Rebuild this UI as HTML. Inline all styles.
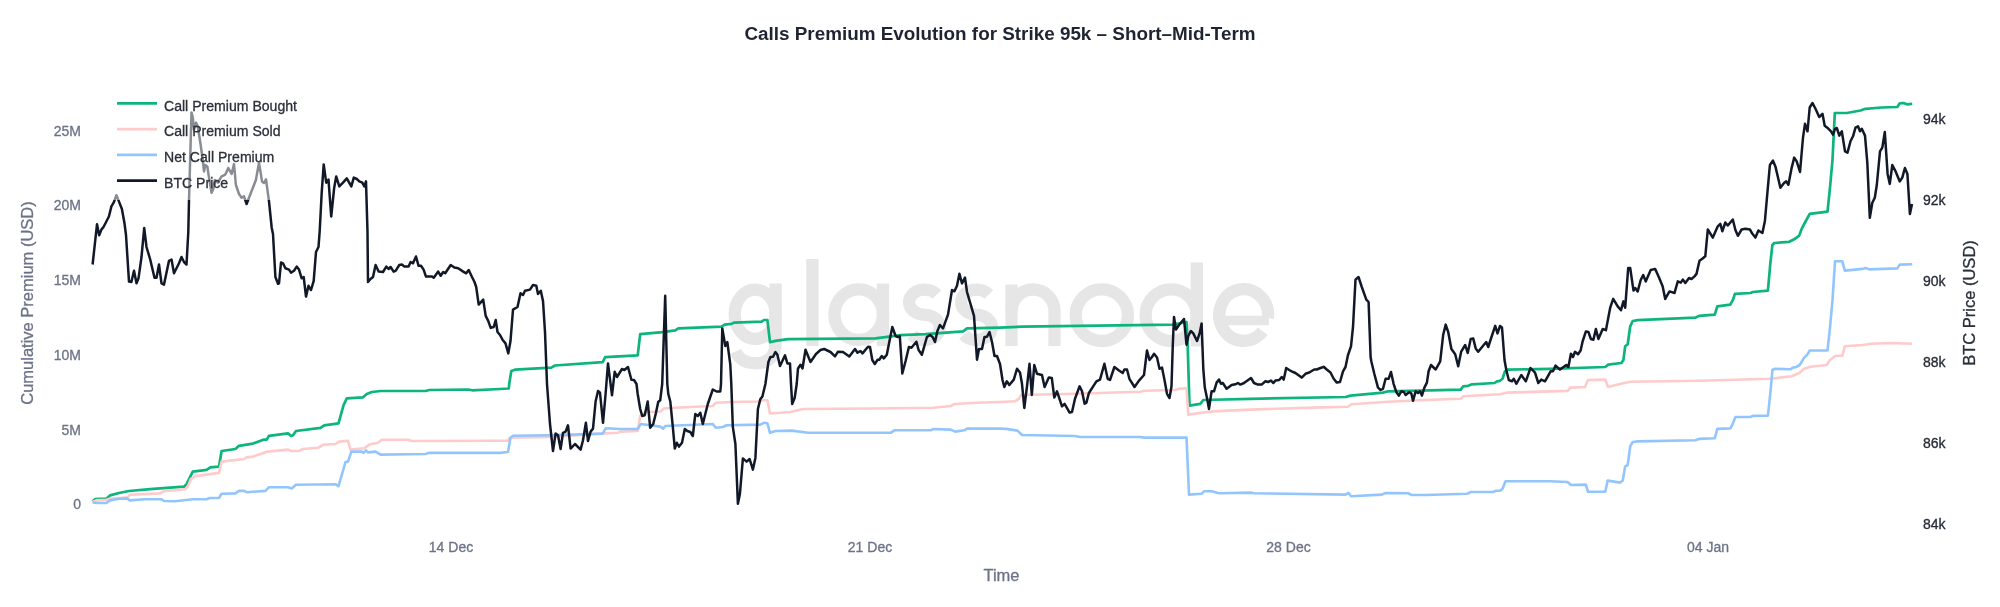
<!DOCTYPE html>
<html><head><meta charset="utf-8">
<style>
html,body{margin:0;padding:0;background:#fff;}
body{width:2000px;height:607px;overflow:hidden;position:relative;font-family:"Liberation Sans",sans-serif;}
svg{position:absolute;left:0;top:0;will-change:transform;}
text{font-family:"Liberation Sans",sans-serif;stroke-width:0.3px;paint-order:stroke;}
</style></head><body>
<svg width="2000" height="607" viewBox="0 0 2000 607">
<rect x="0" y="0" width="2000" height="607" fill="#ffffff"/>
<!-- watermark -->
<g fill="none" stroke="#e6e6e6" stroke-width="12.3" stroke-linecap="butt"><ellipse cx="755.2" cy="314.3" rx="20.5" ry="24.6"/><path d="M775.6,283.6 V343 C775.6,357 768,363.3 756,363.3 C746,363.3 739,359 735.5,351.5"/><path d="M812.4,259 V346"/><ellipse cx="858.7" cy="314.6" rx="24.3" ry="25.2"/><path d="M883.0,283.5 V346"/><path d="M936.8,294.4 A15.4,12.60 0 0 0 924.5,289.6 A15.4,12.60 0 0 0 909.1,302.2 A15.4,12.60 0 0 0 924.5,314.8 A15.4,12.60 0 0 1 939.9,327.4 A15.4,12.60 0 0 1 924.5,340.0 A15.4,12.60 0 0 1 911.9,334.7"/><path d="M988.8,294.4 A15.4,12.60 0 0 0 976.5,289.6 A15.4,12.60 0 0 0 961.1,302.2 A15.4,12.60 0 0 0 976.5,314.8 A15.4,12.60 0 0 1 991.9,327.4 A15.4,12.60 0 0 1 976.5,340.0 A15.4,12.60 0 0 1 963.9,334.7"/><path d="M1011.5,284.5 V346"/><path d="M1011.5,311 A21.5,21.5 0 0 1 1054.5,311 V346"/><ellipse cx="1101.8" cy="315.2" rx="26.1" ry="25.8"/><ellipse cx="1171.2" cy="315.2" rx="25.6" ry="25.8"/><path d="M1196.8,262.5 V346.5"/><path d="M1267.9,318.3 A24.4,25.8 0 1 0 1262.7,331.2"/><path d="M1219.1,320.5 H1268.9" stroke-width="9.5"/></g>
<!-- series -->
<polyline fill="none" stroke="#0db57d" stroke-width="2.7" stroke-linejoin="round" points="92.6,501.2 95,499.2 106.4,498.7 110,495.4 119,493 129,491 150,489.2 184,486.7 186.5,484.2 192.8,471.6 206.6,469.9 210.3,467.4 219,466.6 221.6,451 235.4,449 239,445.8 252.9,443.6 264,439.6 266.7,439.6 269,435.8 288,433.3 291,436 293,435.3 296,431 320.5,427.8 324.2,425.3 338.5,423.3 343.5,405.3 346.8,398.3 363,397.3 366.8,394 371.8,392 380.6,391 425.6,391 429.4,390 468.2,389.5 472,390.3 500,389 508.8,388.5 509.2,384 511.3,371 515,369.7 551.3,367.7 555,365.5 602.7,362.2 605.2,357.2 637.7,355.4 640.2,334.2 662.7,332.2 675.3,330.4 678.3,328.4 721.6,326.6 724.6,324.6 731.6,323.9 734,322.6 761.6,321.6 764,320 767.4,320 770,342.2 775.4,340.9 788,339.2 875.6,338.4 900.6,335.2 925.6,334.2 963.2,331.4 967,328.4 1000,327.6 1022.5,326.6 1172.8,324.6 1186.5,322 1187.5,340 1189.5,405.6 1200.3,403.8 1203.3,400 1250.4,398.8 1345.5,397 1350.5,395.6 1383,392.6 1388,391.3 1460.7,389.6 1463.2,386.3 1468.2,385.8 1472,384.3 1494.5,383 1497,381.3 1500,380.8 1502.5,378.8 1505,371.3 1507.5,369.6 1550,368.8 1605.2,367 1608.2,364.6 1621.4,363 1623.4,360 1625.2,346.3 1627.7,344.3 1630.2,326.3 1632.7,321 1637.7,320.2 1695.3,317.7 1699,315.9 1714.8,314.7 1717.3,306.4 1730.3,304.7 1732.8,300.2 1734.9,293.9 1750.4,293 1752.9,292 1767.9,290.6 1770.4,262.6 1772.4,245 1774.2,243 1789.2,241.8 1794.2,239.3 1799.2,235.6 1801.7,228.8 1805,222.5 1809.7,213.8 1827.5,211.6 1830,187.7 1832.5,160 1834.8,113 1846.8,113 1860.5,110.5 1865.5,108.8 1881.8,107.5 1897.3,107 1899.8,103.3 1903.6,103 1906.9,104.3 1912.2,103.8"/>
<polyline fill="none" stroke="#fecaca" stroke-width="2.6" stroke-linejoin="round" points="92.6,501.7 96.4,500.4 106.4,499.7 110,498.7 127.7,497.2 130.2,494.7 160.2,493.4 164,491.2 185.3,489.2 187.8,486.7 190.8,479.1 195.3,476.1 219,472.9 221.6,461.6 244,459 246.6,457.4 252.9,456.6 267.9,451.6 288,449.6 291.7,451 299.2,450.9 303,449 318,447.8 323,444.8 335.5,444 339.3,441.6 348,440.8 350.5,449.6 364.3,448.3 369.3,444.6 378,442.8 381.8,439.8 408,439.8 411.9,441 500,440.8 507.5,440.8 510,437.8 550,437 600,433.6 617.7,432.8 620.2,431.6 637.7,431 640.2,416 645.2,412 660.2,411.5 664,408.5 675.3,407.8 700.3,406.5 712.8,406 715.8,402.8 731.6,402 757.9,401.5 761.6,400.3 767.4,400.3 770,413.5 790.4,412 803,409 875.6,408.5 933.2,407.8 950.7,406 954.4,404 975.7,402.8 1000,402 1015,401.3 1018.8,398.8 1021.3,395 1075,393.8 1140.2,391.8 1144,390.8 1175.3,390 1179,388.8 1186.5,388.3 1188.3,414.6 1200.3,413 1212.8,411.4 1250.4,409.6 1313,407.6 1348,406.8 1351.3,404.3 1388,401.8 1425.6,400 1460.7,398.8 1463.2,396.3 1500,394.2 1507.5,392.6 1567.6,390.9 1570.6,387.6 1585.1,387 1588,380 1605.2,379.6 1608.2,387 1617.7,384.6 1630.2,381.8 1700.3,380.8 1770.4,378.8 1791.7,376.3 1799.2,373 1804.2,368.8 1810.5,366.8 1826.7,365 1830,360 1835.5,355.8 1842.3,355.8 1844.8,346.3 1863,345 1870.5,343.8 1890.6,343 1912.2,343.8"/>
<polyline fill="none" stroke="#93c5fd" stroke-width="2.6" stroke-linejoin="round" points="92.6,502.4 96.4,503 106.4,503 110,500.4 119,498.7 127,498.4 129.7,500.4 145.2,499.2 161.5,499.2 164,501 175.3,501.2 192.8,499.2 206.6,499.2 209.6,498 219,498 221.6,493.7 235.4,493.4 239,490.9 244,490.9 246.6,492.2 265.4,490.9 269,487.2 288,487.2 291.7,488.4 296,484.7 335.5,484.2 338.5,486.2 345.5,462 348,461.6 351.3,451.6 361.8,451.6 363.5,452.9 366,450.4 368,452.4 375.6,451.6 380.6,454.6 425.6,454 428.6,452.9 500,452.9 508,452 510.5,437.8 513,435.8 550,435.3 602.7,433.6 605.7,428.3 620.2,429 637.7,429 640.7,424 660.2,426.6 663.2,428.6 665.2,426 712.8,424 715.8,427.8 722.8,427 726.6,425.3 760.4,424.6 764,422.8 767.4,423.3 770,432.8 775.4,431 791.7,430.6 808,432.8 890.6,432.8 894.3,430.3 930.6,430.3 933.2,429 950.7,429.6 955.2,431.6 964.4,430.3 967,428.6 1000,428.6 1006.3,428.9 1017.5,430.6 1022,435 1075,436 1080,437 1140.2,437 1144,437.6 1186.5,437.6 1189,494.6 1201.6,493.8 1204,491.3 1211.6,491.3 1219,493.3 1250.4,492.6 1254,493.3 1345.5,494.6 1348.5,493 1351,496.3 1381.8,494.6 1385.6,493 1408,493.3 1411.9,495 1425.6,495 1467,493.8 1470.7,492 1493.2,492 1495.7,490.8 1500,490.8 1502.5,488.8 1505.5,481.3 1550,481.3 1567.6,482 1570.9,485 1585.9,484.6 1588,491.8 1605.2,491.8 1607.7,480.6 1620.2,482.6 1622.7,480.6 1625.2,466.3 1627.7,465 1630.2,446.3 1632.7,442 1637.7,441.4 1695.3,440.2 1699,438.9 1714.8,438.2 1717.3,428.9 1730.3,428.4 1732.8,423.9 1735.4,417 1750.4,417 1752.9,415.9 1767.9,415.6 1770.4,392.6 1772.4,370 1775,368.8 1790.4,369.3 1793,367.6 1796.2,367 1799.7,365 1804.2,357.6 1807.5,354.3 1809.7,350.5 1827.5,350.5 1830,327.5 1832.5,300.2 1835,261.3 1842.3,261.3 1844.8,270.6 1863,268.9 1865.5,268 1869.3,269.4 1897.3,268.4 1899.8,264.6 1912.2,264.3"/>
<polyline fill="none" stroke="#111827" stroke-width="2.5" stroke-linejoin="round" points="92.6,264.5 97.0,224.3 99.2,235.2 101.4,229.6 103.5,227 105.6,223 108.9,216.5 111.4,206.4 113.9,202.2 116.4,195.2 118.9,201.4 121.9,209 124.4,222.7 126,235 129,281.6 131.4,282 134,270.8 136.5,283.3 138.5,278.3 141.5,257 144.2,228 146.5,247 150.2,259.5 154.5,277.8 156.5,277.8 159,264.5 161.5,283.3 164,284.6 169,260.8 171.5,259.5 174,273.3 179,263.3 181.5,257 184,262 186.5,264.5 188.3,232 189,200 191.5,112.5 192.8,117.6 194,130 196,122.6 197.8,126.3 200.3,142.6 202.8,160 204,171.4 205.3,165 207.3,166.4 209,177.6 211.6,192.7 213.3,189 214.8,180 217.8,182.6 221.6,176.4 225.3,174.6 228.3,168 231.6,174 234,164 235.9,185 239,194 241.6,197.7 244,196.4 246.6,204 249,197.7 252.9,187.7 255.9,180 259,162.6 262,181.4 264,183 266,179.4 269,201.4 271.7,227.7 273,234 275.4,277 278,283.8 279,283.3 281,262.5 283,263.3 285.4,268.3 289,269.6 291,272.6 294,270.8 296.7,266.6 299,269.6 301.7,278.3 303.7,277 306,296.6 308.5,285.8 311,290 313.7,280.8 316,252 318.5,247 319.7,231 321.7,192.7 323.7,164.4 326.2,182.7 328.5,179.6 331.2,216.5 334.2,187.7 336.2,176.4 339.3,186.4 343,182.7 346.8,178.4 351.3,186.4 353.8,177.6 356.8,179 359.3,181.4 362.3,182.7 364.3,186.4 366,181.4 367.5,232 368,282 370.5,279 373,277 375.6,265 378.6,271.6 383,272 386.3,266.6 388.6,269 390.6,267 393.6,271.6 395.6,270.8 399.3,265 401.9,264.5 404.4,266.6 408.6,266.6 410.6,262 413,263.3 416,256.5 418.6,265.8 421,265.8 423.6,269.6 426,276.6 432,276.6 433.7,277.8 438.2,271.6 440.7,275.8 443.2,272 445.2,273.3 450.7,265 454.4,267.6 458.2,268.3 463.2,271.6 466.2,273.3 468.7,270 472,277 474.5,282 476.2,287 478.7,304.6 483.2,299.6 485.7,315.9 488.2,320.9 490.7,327.9 493.7,327 495.7,320 497.5,332 500,335 502.5,339.7 505.5,343.4 508.3,353.4 510.5,341 513,309.6 517.5,307 520.5,293.3 523,295 525,290.8 530,289.6 533,285 536.3,285.8 538,294 540.8,290.8 543,300.9 545,332 547,384 550,424 553,451 555.6,433.6 558,435.3 560.6,449 563,432.8 565.6,431.6 568,425.3 570.6,448.6 575,444 580.6,449.6 583,440.3 585.9,422.8 588,441 590.6,431.6 593,428.6 595.6,401.5 598,391 600,392.8 603,422.8 605.5,395 608,363.4 612,395.3 614.7,371.7 617,377 622,369 624.4,370 628,367 631.4,379.7 634,380 636.5,384 637.7,394 640.2,409 642.2,416 644.7,415.3 647.7,401.5 650.2,427.8 653.2,424 655.7,414 658.2,402 660.2,400.3 662.2,384 665.2,295.8 667.3,384 668.3,394 670.3,401.5 672.8,426.6 674.8,448.6 676.8,442.8 679,446.6 682,442.8 684.8,429 687.3,431 690.3,432 692.8,436 695.3,414 697.8,416 700.3,412.8 702.8,424 707.8,404 712.8,389.5 716.6,391.5 720.3,391.5 721,384 722.3,328.4 725.3,346 727.3,342 730.3,364.7 731.3,384 732.8,426.6 735.4,444 737.9,503.7 739.9,494 742.9,458.4 746.6,461.6 749.6,459 752.9,469.6 755.4,457.9 757.9,409 760.4,399 762.4,396.5 765.4,384 768.4,362 770.4,357 773,356.7 775.4,352 777.4,354.7 780,366 785,355.4 787.4,363.4 790,363.4 791,384 792.2,404 794.7,397.8 796.7,384 798,368.5 800.5,364.7 802.5,368.5 805.5,349.7 810.5,362 816,354 820.5,350 824.2,349 830.5,352 835,356.4 838,351.7 843,352 849.3,356.4 855,349 857.5,352.7 860.5,351 862.5,353.4 868,346.7 870,347 872.3,360 874.8,364 877.6,359.7 879.3,359.7 881.8,356 883.8,358.4 886.8,354.7 889.3,342 892.3,327 895.6,336 898,337 899.8,336 902.3,373.5 905.6,361 908.9,347 911.4,347.7 916.4,341.7 918.6,350 921.9,354.7 926.9,337 930,335 932.6,337 935,342 937.4,331 939.9,325 943,328.4 948,314.6 952,290 954.4,291.3 957,285.8 959.4,273.8 962,283.3 965,277.6 967,292 970.7,304.6 974,315.9 977,359.7 979,349 982,349 984.5,337 987,336.7 989.5,332 992,342 994.5,356 997,356 1000,364 1002.5,380 1004.3,387 1006.8,381.3 1009.3,385 1013.8,379.6 1017,368.8 1020,372.5 1022,383.8 1024.3,408 1027,386.3 1029.5,363.8 1031.8,395 1034.3,365 1037,373.8 1042,375 1044.6,387 1048.8,377.6 1051.8,378 1054.3,397.6 1057,391.3 1062,406.3 1064.6,403.8 1069.6,412.6 1072,412 1075,398.8 1079.6,386.3 1082,391.3 1084.6,403.8 1086.4,402.6 1088.9,393 1096.4,381.3 1100,379.6 1104.4,363.8 1107.7,378.8 1110,380 1114.4,367 1119,370.5 1122.7,373 1124.4,369.5 1127,369.5 1129.4,378.8 1134.5,387 1139,380.6 1144,375 1147,350.5 1149.5,360 1152,357 1154,353.8 1157,357.5 1159.5,368.8 1162,367.5 1164.5,380 1167,393.8 1169.5,398 1171.5,386.3 1172.8,344.7 1174,317 1176,329.6 1179,325 1181.5,322 1184,319 1186.5,344.7 1188.3,336 1190.8,331 1193.3,333.4 1197,341 1199.6,333.4 1201.6,323.4 1203.3,368.8 1204.8,387.6 1207,398 1209,408.9 1211.6,391.3 1214,391.3 1216.6,382.6 1219,379.6 1221,383.8 1222.8,383 1226.6,388.8 1231.6,385 1235.4,384.3 1237.9,383 1240.4,384.6 1244,383 1251,378 1254,383 1257.9,384.6 1261.6,384.6 1265.4,381.3 1268,382 1271,380.6 1273.4,383 1275.4,380.6 1279.2,380 1281.7,377 1283.7,379.6 1286.2,368 1289.2,370 1291.7,371.3 1295.4,373 1301.7,377.6 1305.5,373.8 1309.2,372.5 1314.2,369.5 1316.7,369.5 1320.5,368 1323.7,366.8 1326.7,369.5 1330.5,372.5 1333.7,378.8 1336.8,382.6 1340,382 1343,371.3 1345.5,367 1348,355 1351,346.3 1353,327 1355.5,279.6 1358.5,277 1361.8,287 1366.3,299.6 1368.6,302 1370.6,357 1371.3,361.3 1374.3,373.8 1378,387.6 1380.6,390 1383,388.8 1385.6,378.8 1388.6,378.8 1391,372 1393.6,383.8 1396.3,392 1398.8,395.6 1401.3,391.3 1403.9,392 1405.6,395 1409.4,392 1411.4,393.8 1413,400.8 1415.6,391.3 1418,393 1420,391.3 1421.9,395.6 1424.4,387.6 1426.9,382.6 1428.6,371.3 1431,365 1435.7,369.5 1440.2,361.3 1443.2,334.7 1445.7,324.6 1448.2,332 1451.4,349 1455.2,354.3 1458.2,366.2 1461.2,351.6 1465.2,345 1467.7,353 1470.7,339 1473.2,338.4 1475.7,348.4 1478.2,351.7 1484.5,344 1486.2,342 1488.2,347 1491.5,337 1495.2,325.9 1497.5,333.4 1500,326 1502,327.5 1504.5,360 1506.3,370 1508.8,380 1512,381.3 1513.8,378.8 1516.3,383.8 1521.3,375 1525.8,381.3 1530.5,368 1535,372.6 1538.3,383 1541.3,379.6 1545,381.3 1550.6,371.3 1553,371.3 1555.6,365.6 1560,369.6 1566.3,365 1568.4,367 1570.9,353.8 1573,357 1575,351.8 1578,354.3 1580.6,350.5 1582.6,341.5 1585.9,331.4 1588.4,332 1590.9,339 1593.4,339.7 1595.9,329 1598.4,339 1602.7,329 1605.9,330.2 1610.2,307.7 1613.2,298.9 1617.7,306.4 1621,310.2 1623.4,301.4 1625.2,307.7 1628.2,268 1630.2,268 1633.5,290.6 1635.2,288 1637.7,291.4 1640.7,280 1643.2,275 1645.7,281.4 1650.7,270 1655.2,268.9 1659,277.6 1662.7,286.4 1665.2,298.9 1669.5,291.4 1674.5,293 1677.8,281.4 1680.8,282.6 1682.8,279.6 1685.3,283 1689,278 1691.5,279 1694.5,276.4 1696.5,273.9 1699.5,260.8 1702.3,258.8 1705.3,256.3 1707.8,229.5 1712.8,237.6 1717.8,226.3 1720.3,223.8 1722.3,231.3 1725.3,222.5 1727.8,225.5 1732.8,219.5 1735.4,230 1737.9,235.8 1741.6,229.5 1745.4,228.8 1749.9,229.5 1752.4,233.8 1755.4,237.6 1758.4,230.5 1762.4,233 1764.9,221 1767.4,192.7 1769.9,165 1772.9,160.6 1775.4,166.4 1780.4,187.7 1784.2,182.7 1786.2,181.4 1788.4,184.7 1791.7,167.6 1794.2,157.6 1796.7,161.4 1800,172 1803,137.6 1805,123.8 1807.5,131.3 1809.7,107.5 1812.5,103 1815.5,108.8 1819.2,117 1822.5,113.8 1824.7,125.8 1828,128.3 1831,131.3 1833,134.6 1835,128.8 1836.8,128 1839.3,135.6 1841.8,131.3 1845,151.4 1847.5,152.6 1850.5,141.3 1853,136.3 1855.5,127.6 1858,126.3 1860,131.3 1861.8,128.8 1865,135.6 1867.3,162.6 1869.8,217.7 1872.3,202.7 1874.8,197.7 1876.8,185 1880,151.4 1882.3,147.6 1884.8,132 1887.6,173.9 1889.8,183.9 1892.3,165 1895.6,171.4 1899.8,181.4 1902.3,177.6 1904.9,168 1907.4,173.9 1909.9,214 1912.0,204"/>
<!-- legend -->
<rect x="112" y="92" width="192" height="108" fill="#ffffff" fill-opacity="0.5"/>
<g font-size="14.08" fill="#2a2f3a" stroke="#2a2f3a">
<line x1="117" y1="103.4" x2="157" y2="103.4" stroke="#0db57d" stroke-width="2.7"/>
<text x="164" y="110.6">Call Premium Bought</text>
<line x1="117" y1="129.1" x2="157" y2="129.1" stroke="#fecaca" stroke-width="2.6"/>
<text x="164" y="136.3">Call Premium Sold</text>
<line x1="117" y1="154.9" x2="157" y2="154.9" stroke="#93c5fd" stroke-width="2.6"/>
<text x="164" y="162.0">Net Call Premium</text>
<line x1="117" y1="180.6" x2="157" y2="180.6" stroke="#111827" stroke-width="2.6"/>
<text x="164" y="187.7">BTC Price</text>
</g>
<!-- title -->
<text x="1000" y="40" font-size="18.86" font-weight="bold" fill="#1f2433" text-anchor="middle">Calls Premium Evolution for Strike 95k – Short–Mid-Term</text>
<!-- left ticks -->
<g font-size="14" fill="#6b7287" stroke="#6b7287" text-anchor="end">
<text x="81" y="136">25M</text>
<text x="81" y="210.2">20M</text>
<text x="81" y="284.7">15M</text>
<text x="81" y="360">10M</text>
<text x="81" y="435">5M</text>
<text x="81" y="509">0</text>
</g>
<!-- right ticks -->
<g font-size="14" fill="#252a36" stroke="#252a36" text-anchor="start">
<text x="1923" y="123.8">94k</text>
<text x="1923" y="204.8">92k</text>
<text x="1923" y="285.8">90k</text>
<text x="1923" y="366.8">88k</text>
<text x="1923" y="447.8">86k</text>
<text x="1923" y="528.8">84k</text>
</g>
<!-- x ticks -->
<g font-size="14" fill="#6b7287" stroke="#6b7287" text-anchor="middle">
<text x="451" y="552">14 Dec</text>
<text x="870" y="552">21 Dec</text>
<text x="1288.5" y="552">28 Dec</text>
<text x="1708" y="552">04 Jan</text>
</g>
<!-- axis titles -->
<text x="1001.5" y="581.4" font-size="16.5" fill="#6b7287" stroke="#6b7287" text-anchor="middle">Time</text>
<text transform="translate(33,303) rotate(-90)" font-size="16.5" fill="#6b7287" stroke="#6b7287" text-anchor="middle">Cumulative Premium (USD)</text>
<text transform="translate(1975,303) rotate(-90)" font-size="16.5" fill="#2a2f3a" stroke="#2a2f3a" text-anchor="middle">BTC Price (USD)</text>
</svg>
</body></html>
